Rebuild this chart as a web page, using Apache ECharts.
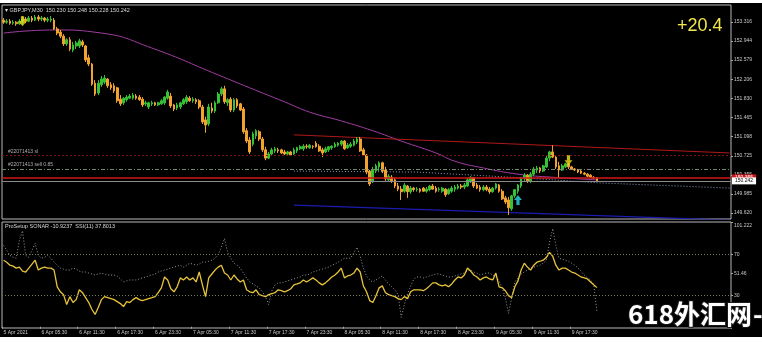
<!DOCTYPE html>
<html><head><meta charset="utf-8">
<script src="https://cdn.jsdelivr.net/npm/echarts@6/dist/echarts.min.js"></script>
<style>html,body{margin:0;padding:0;background:#fff}#c{width:762px;height:343px}</style>
</head><body><div id="c"></div>
<script>
// ---------- DATA (GBPJPY M30) ----------
const opens = [
153.35,153.31,153.33,153.29,153.31,153.28,153.33,153.37,153.33,153.39,
153.35,153.41,153.37,153.39,153.35,153.35,153.35,153.18,153.12,153.04,
152.89,152.97,152.77,152.85,152.85,152.93,152.85,152.62,152.50,152.13,
151.94,152.10,152.15,152.21,152.10,152.08,152.04,151.82,151.75,151.81,
151.84,151.84,151.88,151.86,151.82,151.73,151.67,151.73,151.75,151.71,
151.73,151.75,151.84,151.88,151.71,151.65,151.67,151.73,151.77,151.84,
151.79,151.81,151.79,151.67,151.42,151.34,151.65,151.59,151.75,151.92,
152.02,151.75,151.82,151.61,151.81,151.73,151.63,151.21,151.03,150.95,
151.11,151.19,151.05,150.84,150.68,150.76,150.82,150.84,150.84,150.80,
150.76,150.80,150.76,150.82,150.86,150.86,150.91,150.88,150.91,150.97,
150.91,150.84,150.80,150.84,150.88,150.90,150.93,150.95,151.01,150.88,
150.91,150.93,150.99,151.05,150.84,150.74,150.43,150.22,150.43,150.51,
150.59,150.45,150.26,150.31,150.26,150.14,150.08,150.04,150.14,150.03,
150.10,150.07,150.08,150.10,150.04,150.07,150.14,150.10,150.07,150.04,
150.08,149.99,150.04,150.08,150.10,150.14,150.12,150.14,150.22,150.30,
150.16,150.12,150.07,150.12,150.08,150.03,150.10,150.16,150.04,149.91,
149.87,149.70,149.95,150.04,150.14,150.28,150.35,150.24,150.37,150.45,
150.49,150.43,150.51,150.68,150.80,150.70,150.53,150.45,150.51,150.57,
150.51,150.47,150.45,150.43,150.39,150.37,150.35,150.31,150.30];
const closes = [
153.31,153.33,153.29,153.31,153.28,153.33,153.37,153.33,153.39,153.35,
153.41,153.37,153.39,153.35,153.37,153.37,153.18,153.10,153.04,152.89,
152.97,152.79,152.87,152.91,152.95,152.87,152.58,152.50,152.11,151.92,
152.13,152.21,152.23,152.08,152.04,151.98,151.79,151.73,151.84,151.86,
151.88,151.90,151.84,151.81,151.71,151.75,151.75,151.75,151.71,151.75,
151.79,151.86,151.96,151.69,151.63,151.71,151.75,151.81,151.86,151.79,
151.82,151.77,151.67,151.38,151.32,151.67,151.59,151.75,151.92,152.02,
151.77,151.81,151.61,151.81,151.69,151.61,151.19,151.01,150.80,151.15,
151.21,151.05,150.84,150.68,150.76,150.84,150.86,150.82,150.78,150.76,
150.80,150.74,150.84,150.88,150.90,150.91,150.90,150.93,150.90,150.90,
150.82,150.78,150.86,150.90,150.91,150.95,150.97,151.01,150.86,150.93,
150.95,151.01,151.05,150.82,150.74,150.41,150.18,150.45,150.53,150.59,
150.43,150.28,150.33,150.24,150.14,150.08,150.03,150.16,150.03,150.10,
150.07,150.08,150.04,150.04,150.08,150.14,150.08,150.04,150.08,150.10,
149.97,150.07,150.10,150.12,150.14,150.12,150.16,150.26,150.31,150.14,
150.10,150.07,150.12,150.07,150.03,150.10,150.18,150.04,149.89,149.83,
149.72,149.95,150.07,150.16,150.30,150.35,150.24,150.37,150.47,150.49,
150.43,150.53,150.68,150.80,150.70,150.51,150.45,150.53,150.57,150.51,
150.47,150.45,150.41,150.39,150.37,150.33,150.31,150.30,150.242];
const lows = [
153.28,153.28,153.26,153.26,153.24,153.26,153.29,153.29,153.31,153.31,
153.33,153.33,153.33,153.31,153.31,153.31,153.16,153.06,153.00,152.85,
152.85,152.75,152.73,152.79,152.81,152.83,152.54,152.46,152.08,151.88,
151.90,152.06,152.11,152.04,152.00,151.94,151.75,151.69,151.71,151.77,
151.82,151.81,151.81,151.79,151.67,151.69,151.63,151.69,151.69,151.69,
151.71,151.71,151.81,151.65,151.59,151.61,151.63,151.71,151.73,151.77,
151.75,151.73,151.63,151.34,151.17,151.30,151.55,151.55,151.73,151.88,
151.73,151.69,151.57,151.57,151.65,151.59,151.15,150.97,150.76,150.91,
151.05,151.01,150.80,150.64,150.66,150.72,150.78,150.78,150.76,150.74,
150.72,150.72,150.74,150.78,150.84,150.82,150.86,150.86,150.86,150.88,
150.80,150.70,150.78,150.80,150.84,150.88,150.90,150.91,150.84,150.86,
150.88,150.91,150.95,150.80,150.72,150.37,150.14,150.20,150.39,150.43,
150.39,150.24,150.22,150.20,150.10,150.04,149.87,150.01,149.91,149.99,
150.03,150.03,150.01,150.03,150.01,150.04,150.07,150.01,150.03,150.01,
149.93,149.97,150.01,150.03,150.07,150.08,150.08,150.12,150.20,150.10,
150.08,150.03,150.04,150.04,149.99,150.01,150.07,150.01,149.87,149.79,
149.58,149.66,149.91,149.99,150.10,150.24,150.20,150.20,150.33,150.39,
150.39,150.41,150.49,150.62,150.68,150.47,150.31,150.43,150.49,150.47,
150.45,150.43,150.39,150.37,150.35,150.31,150.30,150.28,150.24];
const highs = [
153.39,153.37,153.37,153.35,153.33,153.37,153.43,153.41,153.43,153.43,
153.45,153.45,153.43,153.41,153.41,153.43,153.39,153.22,153.16,153.08,
153.00,153.02,152.93,152.95,152.99,152.97,152.87,152.68,152.52,152.19,
152.19,152.27,152.29,152.23,152.15,152.13,152.06,151.90,151.86,151.90,
151.92,151.94,151.92,151.90,151.86,151.79,151.77,151.79,151.77,151.77,
151.82,151.88,152.00,151.94,151.73,151.75,151.77,151.84,151.90,151.88,
151.86,151.84,151.82,151.71,151.48,151.73,151.75,151.79,151.96,152.06,
152.08,151.84,151.86,151.84,151.84,151.75,151.67,151.26,151.09,151.19,
151.24,151.22,151.09,150.90,150.80,150.88,150.90,150.88,150.86,150.84,
150.82,150.82,150.88,150.90,150.93,150.95,150.95,150.95,150.93,151.01,
150.95,150.88,150.90,150.91,150.93,150.99,150.99,151.03,151.03,150.97,
150.99,151.05,151.09,151.09,150.88,150.76,150.45,150.51,150.57,150.62,
150.61,150.51,150.37,150.35,150.30,150.20,150.14,150.20,150.16,150.14,
150.12,150.12,150.10,150.12,150.12,150.16,150.18,150.14,150.12,150.12,
150.10,150.10,150.14,150.16,150.18,150.18,150.20,150.30,150.33,150.31,
150.20,150.16,150.16,150.16,150.12,150.12,150.20,150.18,150.08,149.95,
149.93,149.97,150.08,150.18,150.31,150.39,150.37,150.41,150.51,150.53,
150.51,150.55,150.72,150.82,150.93,150.72,150.61,150.57,150.59,150.59,
150.53,150.49,150.47,150.45,150.41,150.39,150.37,150.33,150.31];

// slow moving average (magenta) read at selected bars
const maIdx = [0, 16, 31, 47, 68, 78, 89, 97, 107, 117, 126, 137, 143, 152, 163, 174, 188];
const maVal = [153.10,153.16,153.10,152.81,152.29,152.04,151.77,151.57,151.40,151.21,151.01,150.78,150.62,150.49,150.37,150.31,150.26];
// trend lines
const redTrendIdx = [92, 230];   const redTrendVal = [151.13, 150.78];
const blueTrendIdx = [92, 230];  const blueTrendVal = [149.77, 149.48];
const dotTrendIdx = [92, 131, 164, 189, 230]; const dotTrendVal = [150.43, 150.41, 150.30, 150.20, 150.10];
// horizontal levels
const slLevel = 150.74, sellLevel = 150.47, askLevel = 150.30, bidLevel = 150.242;
// arrows
const downArrowIdx = [6, 179];  const downArrowVal = [153.33, 150.64];
const upArrowIdx = [163];       const upArrowVal = [149.87];

// ProSetup SONAR sub window
const ssi = [
64.3,62.4,59.5,58.6,56.7,57.6,53.8,52.9,56.7,60.5,
64.3,54.8,56.7,57.6,56.7,56.7,54.8,38.6,33.8,31.0,
21.4,29.1,23.4,26.2,35.7,32.9,28.1,23.4,16.7,11.9,
18.6,26.2,29.1,28.1,27.2,26.2,24.3,22.4,19.5,24.3,
23.4,26.2,28.1,26.2,25.3,26.2,27.2,28.1,29.1,32.9,
37.6,48.1,45.2,36.7,33.8,38.6,47.2,45.2,48.1,45.2,
47.2,43.3,52.9,40.5,29.1,47.2,51.0,54.8,57.6,59.5,
51.9,50.0,45.2,50.0,46.2,43.3,45.2,35.7,33.8,32.9,
35.7,31.0,30.0,29.1,31.0,31.9,32.9,35.7,34.8,33.8,
34.8,36.7,40.5,41.4,42.4,45.2,43.3,45.2,47.2,45.2,
42.4,40.5,42.4,45.2,48.1,50.0,52.9,56.7,47.2,49.1,
50.0,51.9,56.7,52.9,39.5,33.8,25.3,23.4,30.0,37.6,
39.5,32.9,31.0,30.0,29.1,27.2,26.2,29.1,27.2,33.8,
35.7,35.7,35.7,34.8,36.7,39.5,42.4,42.4,40.5,39.5,
40.5,38.6,41.4,45.2,48.1,47.2,50.0,56.7,53.8,50.0,
48.1,45.2,47.2,48.1,46.2,45.2,51.9,38.6,37.6,34.8,
30.0,28.1,38.6,44.3,54.8,61.4,57.6,54.8,59.5,62.4,
63.3,64.3,67.1,71.9,68.1,59.5,54.8,56.7,56.7,54.8,
52.9,51.9,50.0,48.1,47.2,46.2,43.3,40.5,37.8];
const sonar = [
78.6,73.8,69.0,67.1,66.2,83.3,92.8,69.0,67.1,73.8,
80.5,69.0,66.2,67.1,69.0,66.2,62.4,59.5,56.7,55.7,
54.8,54.8,56.7,55.7,53.8,52.9,52.9,51.9,51.0,50.0,
51.0,51.9,51.0,50.0,50.0,50.0,49.1,46.2,43.3,44.3,
45.2,45.2,45.2,46.2,47.2,48.1,49.1,50.0,51.0,52.9,
53.8,54.8,55.7,56.7,57.6,58.6,59.5,57.6,59.5,61.4,
60.5,59.5,60.5,62.4,62.4,63.3,64.3,66.2,70.0,76.7,
85.2,71.9,66.2,61.4,59.5,56.7,51.9,47.2,43.3,41.4,
39.5,37.6,33.8,29.1,21.4,34.8,40.5,42.4,42.4,43.3,
44.3,45.2,46.2,47.2,48.1,50.0,50.0,51.0,52.9,53.8,
54.8,55.7,56.7,57.6,59.5,60.5,62.4,64.3,66.2,66.2,
66.2,71.9,76.7,68.1,56.7,49.1,45.2,43.3,45.2,47.2,
49.1,45.2,41.4,38.6,35.7,31.0,9.1,21.4,31.9,39.5,
46.2,48.1,48.1,47.2,48.1,49.1,50.0,51.0,51.0,50.0,
49.1,48.1,48.1,49.1,50.0,51.0,51.9,53.8,54.8,52.9,
51.9,50.0,51.0,51.9,51.9,50.0,48.1,44.3,37.6,28.1,
12.9,28.1,43.3,47.2,51.0,52.9,54.8,56.7,57.6,58.6,
59.5,61.4,64.3,81.4,94.8,78.6,66.2,65.2,64.3,63.3,
61.4,59.5,56.7,53.8,50.0,47.2,45.2,40.5,14.8];
const sonarLevels = [70, 30];

// axis tick labels
const priceTicks = [149.620,149.985,150.355,150.725,151.098,151.465,151.830,152.206,152.579,152.944,153.316];
const sonarTickVals = [30, 51.46, 70, 101.222];
const sonarTickText = ['30', '51.46', '70', '101.222'];
const timeTicks = ['5 Apr 2021','6 Apr 05:30','6 Apr 11:30','6 Apr 17:30','6 Apr 23:30','7 Apr 05:30','7 Apr 11:30','7 Apr 17:30','7 Apr 23:30','8 Apr 05:30','8 Apr 11:30','8 Apr 17:30','8 Apr 23:30','9 Apr 05:30','9 Apr 11:30','9 Apr 17:30'];
const barsPerTimeTick = 12;
const totalSlots = 231; // includes chart shift space on the right

// ---------- BUILD ----------
const cats = [];
const t0 = Date.UTC(2021, 3, 5, 23, 30);
for (let i = 0; i < totalSlots; i++) {
  const d = new Date(t0 + i * 1800000);
  cats.push(d.getUTCDate() + ' Apr ' + String(d.getUTCHours()).padStart(2,'0') + ':' + String(d.getUTCMinutes()).padStart(2,'0'));
}
const candles = opens.map((o, i) => [o, closes[i], lows[i], highs[i]]);
const pairs = (ix, v) => ix.map((x, k) => [x, v[k]]);
const FONT = 'Liberation Sans';
const downPath = 'path://M3,0L7,0L7,6L10,6L5,12L0,6L3,6Z';
const upPath = 'path://M3,12L7,12L7,6L10,6L5,0L0,6L3,6Z';

const chart = echarts.init(document.getElementById('c'), null, {renderer: 'canvas'});
chart.setOption({
  animation: false,
  backgroundColor: '#fff',
  textStyle: {fontFamily: FONT},
  grid: [
    {left: 2, top: 5, width: 729, height: 214, show: true, borderColor: '#b8b8b8', borderWidth: 1, backgroundColor: '#000'},
    {left: 2, top: 222, width: 729, height: 106, show: true, borderColor: '#b8b8b8', borderWidth: 1, backgroundColor: '#000'}
  ],
  xAxis: [
    {type: 'category', gridIndex: 0, data: cats, boundaryGap: true,
     axisLine: {show: false}, axisTick: {show: false}, axisLabel: {show: false}, splitLine: {show: false}},
    {type: 'category', gridIndex: 1, data: cats, boundaryGap: true,
     axisLine: {show: false},
     axisTick: {show: true, length: 2, lineStyle: {color: '#aaa'},
       interval: (i) => i % barsPerTimeTick === 0 && i / barsPerTimeTick < timeTicks.length},
     axisLabel: {show: true, color: '#c8c8c8', fontSize: 5, align: 'left', margin: 2,
       interval: (i) => i % barsPerTimeTick === 0 && i / barsPerTimeTick < timeTicks.length,
       formatter: (v, i) => timeTicks[i / barsPerTimeTick] || ''},
     splitLine: {show: false}}
  ],
  yAxis: [
    {type: 'value', gridIndex: 0, position: 'right', min: 149.502, max: 153.643, scale: true,
     axisLine: {show: false}, splitLine: {show: false},
     axisTick: {show: true, length: 2, lineStyle: {color: '#aaa'}, customValues: priceTicks},
     axisLabel: {color: '#c8c8c8', fontSize: 5, margin: 3, customValues: priceTicks,
       formatter: (v) => v.toFixed(3)}},
    {type: 'value', gridIndex: 1, position: 'right', min: -1.2, max: 101.222,
     axisLine: {show: false}, splitLine: {show: false},
     axisTick: {show: true, length: 2, lineStyle: {color: '#aaa'}, customValues: sonarTickVals},
     axisLabel: {color: '#c8c8c8', fontSize: 5, margin: 3, customValues: sonarTickVals,
       formatter: (v) => {
         const k = sonarTickVals.indexOf(v);
         const s = k >= 0 ? sonarTickText[k] : '';
         return v === sonarTickVals[sonarTickVals.length - 1] ? '{top|' + s + '}' : s;
       },
       rich: {top: {fontSize: 5, color: '#c8c8c8', padding: [7, 0, 0, 0]}}}}
  ],
  series: [
    {type: 'line', xAxisIndex: 0, yAxisIndex: 0, data: pairs(maIdx, maVal), smooth: true, symbol: 'none',
     lineStyle: {color: '#a03ca0', width: 1}, z: 2},
    {type: 'line', xAxisIndex: 0, yAxisIndex: 0, data: pairs(redTrendIdx, redTrendVal), symbol: 'none',
     lineStyle: {color: '#b01818', width: 1}, z: 2},
    {type: 'line', xAxisIndex: 0, yAxisIndex: 0, data: pairs(blueTrendIdx, blueTrendVal), symbol: 'none',
     lineStyle: {color: '#1c1cb0', width: 1.2}, z: 2},
    {type: 'line', xAxisIndex: 0, yAxisIndex: 0, data: pairs(dotTrendIdx, dotTrendVal), symbol: 'none',
     lineStyle: {color: '#8c9cc0', width: 1, type: [1, 2]}, z: 2},
    {type: 'candlestick', xAxisIndex: 0, yAxisIndex: 0, data: candles, barWidth: 2.2, z: 3,
     itemStyle: {color: '#36c236', color0: '#f2a22e', borderColor: '#36c236', borderColor0: '#f2a22e', borderWidth: 1},
     markLine: {symbol: 'none', silent: true, animation: false,
       data: [
         {yAxis: slLevel, lineStyle: {color: '#7a1414', type: [2, 2], width: 1}, label: {show: false}},
         {yAxis: sellLevel, lineStyle: {color: '#6f8a6f', type: [4, 2, 1, 2], width: 1}, label: {show: false}},
         {yAxis: askLevel, lineStyle: {color: '#d01818', type: 'solid', width: 1.5},
          label: {show: true, position: 'end', distance: 1, formatter: '150.355', fontSize: 5, color: '#fff',
                  backgroundColor: '#c81414', padding: [1, 3]}},
         {yAxis: bidLevel, lineStyle: {color: '#8a8a8a', type: 'solid', width: 1},
          label: {show: true, position: 'end', distance: 1, formatter: '150.242', fontSize: 5, color: '#000',
                  backgroundColor: '#fff', padding: [1, 3]}}
       ]}},
    {type: 'scatter', xAxisIndex: 0, yAxisIndex: 0, data: pairs(downArrowIdx, downArrowVal), symbol: downPath,
     symbolSize: [8, 10], itemStyle: {color: '#f2e21a'}, z: 5},
    {type: 'scatter', xAxisIndex: 0, yAxisIndex: 0, data: pairs(upArrowIdx, upArrowVal), symbol: upPath,
     symbolSize: [8, 10], itemStyle: {color: '#2ad8e8'}, z: 5},
    {type: 'line', xAxisIndex: 1, yAxisIndex: 1, data: sonar, symbol: 'none',
     lineStyle: {color: '#9a9a9a', width: 1, type: [1, 2]}, z: 2,
     markLine: {symbol: 'none', silent: true, label: {show: false},
       lineStyle: {color: '#7a7a5e', type: [1, 2], width: 1},
       data: sonarLevels.map(v => ({yAxis: v}))}},
    {type: 'line', xAxisIndex: 1, yAxisIndex: 1, data: ssi, symbol: 'none',
     lineStyle: {color: '#e8c43a', width: 1.3}, z: 3}
  ],
  graphic: [
    {type: 'rect', left: 0, top: 3, shape: {width: 762, height: 334}, style: {fill: '#000'}, z: -10, silent: true},
    {type: 'text', left: 5, top: 7, style: {text: '\u25BE GBPJPY,M30  150.230 150.248 150.228 150.242', fill: '#d8d8d8', font: '5.5px ' + FONT}, z: 10},
    {type: 'text', left: 8, top: 149, style: {text: '#22071413 sl', fill: '#b0b0b0', font: '5px ' + FONT}, z: 10},
    {type: 'text', left: 8, top: 162, style: {text: '#22071413 sell 0.85', fill: '#b0b0b0', font: '5px ' + FONT}, z: 10},
    {type: 'text', left: 5, top: 223, style: {text: 'ProSetup SONAR -10.9237  SSI(11) 37.8013', fill: '#d8d8d8', font: '5.5px ' + FONT}, z: 10},
    {type: 'text', left: 677, top: 17, style: {text: '+20.4', fill: '#f0e64e', font: '18px ' + FONT}, z: 10},
    {type: 'text', left: 627, top: 300, style: {text: '618外汇网', fill: '#ffffff', stroke: '#1a1a1a', lineWidth: 2,
      font: 'bold 26px "Noto Sans CJK SC"'}, z: 20},
    {type: 'text', left: 752, top: 300, style: {text: '-', fill: '#ffffff', stroke: '#1a1a1a', lineWidth: 2,
      font: 'bold 26px "Noto Sans CJK SC"'}, z: 20}
  ]
});
</script></body></html>
